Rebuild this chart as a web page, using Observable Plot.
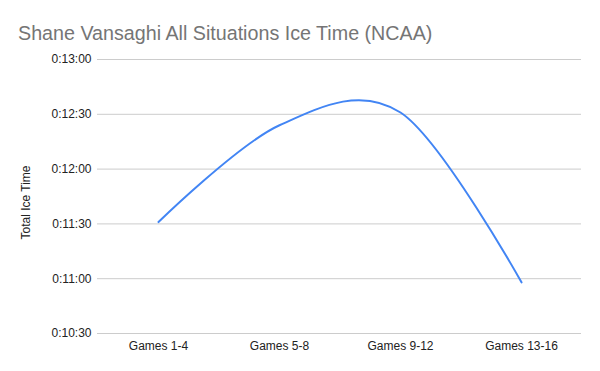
<!DOCTYPE html>
<html>
<head>
<meta charset="utf-8">
<script src="https://cdn.jsdelivr.net/npm/d3@7"></script>
<script src="https://cdn.jsdelivr.net/npm/@observablehq/plot@0.6"></script>
<style>
  html, body { margin: 0; padding: 0; background: #fff; }
  #wrap { position: relative; width: 600px; height: 371px; }
  #title { position: absolute; left: 18px; top: 21px; margin: 0; font-family: "Liberation Sans", Arial, sans-serif; font-size: 19.7px; font-weight: normal; color: #757575; white-space: nowrap; line-height: 24px; }
  #chart svg text { font-family: "Liberation Sans", Arial, sans-serif; }
</style>
</head>
<body>
<div id="wrap">
  <div id="title">Shane Vansaghi All Situations Ice Time (NCAA)</div>
  <div id="chart"></div>
</div>
<script>
const categories = ["Games 1-4", "Games 5-8", "Games 9-12", "Games 13-16"];
// total ice time in seconds
const iceTimeSeconds = [691, 744, 751, 658];
const yTicks = [630, 660, 690, 720, 750, 780];
const yTickLabels = ["0:10:30", "0:11:00", "0:11:30", "0:12:00", "0:12:30", "0:13:00"];

const data = categories.map((c, i) => ({ category: c, seconds: iceTimeSeconds[i] }));

const chart = Plot.plot({
  width: 600,
  height: 371,
  marginTop: 59,
  marginBottom: 38,
  marginLeft: 97,
  marginRight: 19,
  style: { fontFamily: "'Liberation Sans', Arial, sans-serif", fontSize: "12px", color: "#222", background: "#fff" },
  x: { type: "point", domain: categories, padding: 0.5, label: null },
  y: { domain: [630, 780], label: null },
  marks: [
    Plot.gridY(yTicks, { stroke: "#cccccc", strokeOpacity: 1, strokeWidth: 1 }),
    Plot.axisY({
      ticks: yTicks,
      tickSize: 0,
      tickPadding: 6,
      tickFormat: d => yTickLabels[yTicks.indexOf(d)],
      label: null
    }),
    Plot.axisX({ tickSize: 0, tickPadding: 8, label: null }),
    Plot.text(["Total Ice Time"], {
      frameAnchor: "left",
      textAnchor: "middle",
      dx: -71,
      dy: 6,
      rotate: -90,
      fontSize: 12,
      fill: "#222"
    }),
    Plot.line(data, {
      x: "category",
      y: "seconds",
      curve: "cardinal",
      stroke: "#4285F4",
      strokeWidth: 2
    })
  ]
});
document.getElementById("chart").appendChild(chart);
</script>
</body>
</html>
